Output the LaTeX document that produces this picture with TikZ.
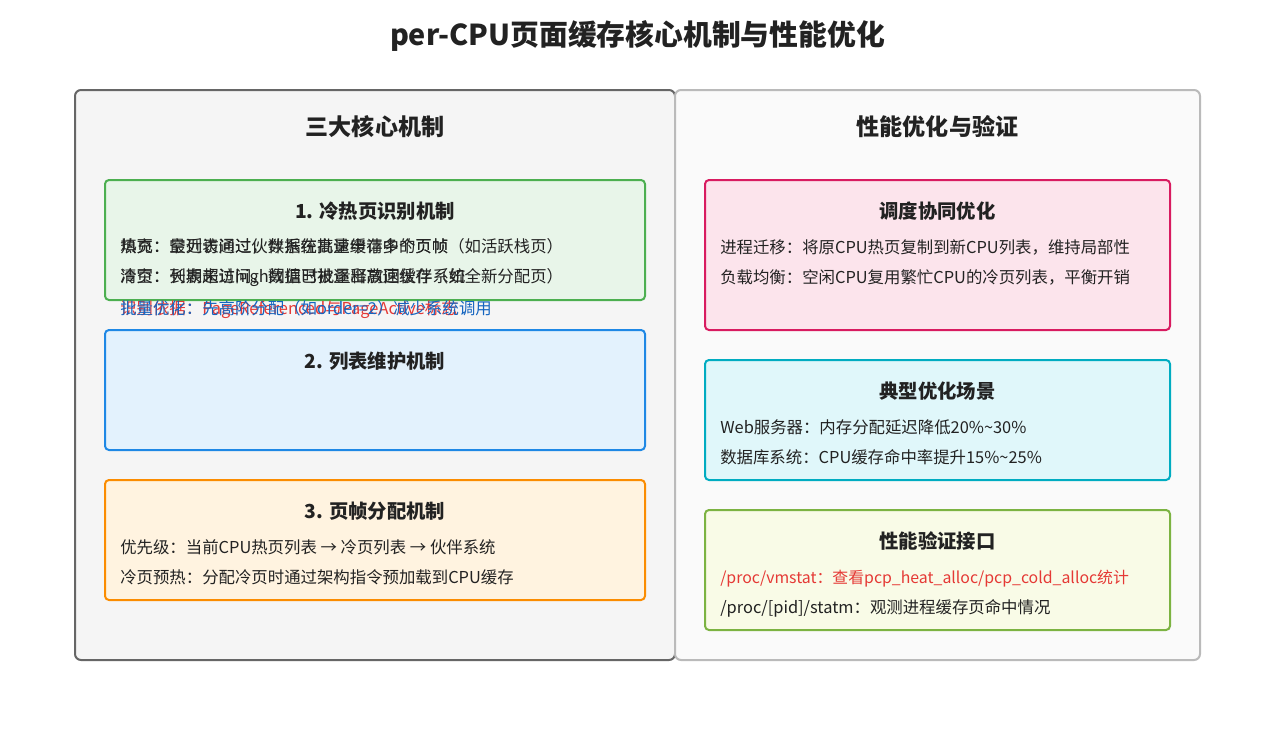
\documentclass[tikz,border=0pt]{standalone}
\usepackage{fontspec}
\setmainfont{Noto Sans CJK SC}
\definecolor{gS}{HTML}{4CAF50}\definecolor{gF}{HTML}{E8F5E9}
\definecolor{bS}{HTML}{1E88E5}\definecolor{bF}{HTML}{E3F2FD}
\definecolor{oS}{HTML}{FB8C00}\definecolor{oF}{HTML}{FFF3E0}
\definecolor{pS}{HTML}{D81B60}\definecolor{pF}{HTML}{FCE4EC}
\definecolor{tS}{HTML}{00ACC1}\definecolor{tF}{HTML}{E0F7FA}
\definecolor{lS}{HTML}{7CB342}\definecolor{lF}{HTML}{F9FBE7}
\definecolor{redT}{HTML}{E53935}\definecolor{bluT}{HTML}{1565C0}
\definecolor{txt}{HTML}{222222}
\tikzset{
  panel/.style={draw, line width=1.5pt, rounded corners=4.5pt},
  cbox/.style={draw, line width=1.5pt, rounded corners=3pt, minimum width=405pt},
  lbox/.style={draw, line width=1.5pt, rounded corners=3pt, minimum width=348.75pt},
  ttl/.style={font=\bfseries\fontsize{21.6}{25}\selectfont, text=txt},
  phead/.style={font=\bfseries\fontsize{17.3}{20}\selectfont, text=txt},
  bhead/.style={font=\bfseries\fontsize{14.5}{17}\selectfont, text=txt},
  body/.style={font=\fontsize{12.3}{14}\selectfont, text=txt, anchor=west, inner sep=0pt, text height=0.85em, text depth=0.2em},
}
\begin{document}
\begin{tikzpicture}[x=0.75pt,y=-0.75pt]
\path[use as bounding box, fill=white] (0,0) rectangle (1275,750);
\node[ttl] (title) at (637.5,36) {per-CPU页面缓存核心机制与性能优化};
% panels
\node[panel, fill=black!4, draw=black!60, minimum width=450pt, minimum height=427.5pt] (lp) at (375,375) {};
\node[panel, fill=black!2, draw=black!27, minimum width=393.75pt, minimum height=427.5pt] (rp) at (937.5,375) {};
\node[phead] (lph) at (375,127) {三大核心机制};
\node[phead] (rph) at (937.5,127) {性能优化与验证};
% left boxes
\node[cbox, fill=gF, draw=gS, minimum height=90pt] (b1) at (375,240) {};
\node[cbox, fill=bF, draw=bS, minimum height=90pt] (b2) at (375,390) {};
\node[cbox, fill=oF, draw=oS, minimum height=90pt] (b3) at (375,540) {};
\node[bhead] (b1h) at (375,211) {1. 冷热页识别机制};
\node[bhead] (b2h) at (375,361) {2. 列表维护机制};
\node[bhead] (b3h) at (375,511) {3. 页帧分配机制};
% overlapping lines of box 1 (as in the reference)
\node[body] (b1a) at (120,248) {热页：最近访问过，数据在高速缓存中的页帧（如活跃栈页）};
\node[body] (b1b) at (120,248) {填充：空列表通过伙伴系统批量申请多个页帧};
\node[body] (b1c) at (120,278) {冷页：长期未访问，数据已被逐出高速缓存（如全新分配页）};
\node[body] (b1d) at (120,278) {清空：列表超过high阈值时批量释放回伙伴系统};
\node[body, text=redT] (b1e) at (120,310) {识别依据：PageReferenced与PageActive标志};
\node[body, text=bluT] (b1f) at (120,310) {批量优化：先高阶分配（如order=2）减少系统调用};
% box 3
\node[body] (b3a) at (120,549) {优先级：当前CPU热页列表 → 冷页列表 → 伙伴系统};
\node[body] (b3b) at (120,579) {冷页预热：分配冷页时通过架构指令预加载到CPU缓存};
% right boxes
\node[lbox, fill=pF, draw=pS, minimum height=112.5pt] (r1) at (937.5,255) {};
\node[lbox, fill=tF, draw=tS, minimum height=90pt] (r2) at (937.5,420) {};
\node[lbox, fill=lF, draw=lS, minimum height=90pt] (r3) at (937.5,570) {};
\node[bhead] (r1h) at (937.5,211) {调度协同优化};
\node[bhead] (r2h) at (937.5,391) {典型优化场景};
\node[bhead] (r3h) at (937.5,541) {性能验证接口};
\node[body] (r1a) at (720,249) {进程迁移：将原CPU热页复制到新CPU列表，维持局部性};
\node[body] (r1b) at (720,279) {负载均衡：空闲CPU复用繁忙CPU的冷页列表，平衡开销};
\node[body] (r2a) at (720,429) {Web服务器：内存分配延迟降低20\%\textasciitilde30\%};
\node[body] (r2b) at (720,459) {数据库系统：CPU缓存命中率提升15\%\textasciitilde25\%};
\node[body, text=redT, font=\fontsize{11.9}{14}\selectfont] (r3a) at (720,579) {/proc/vmstat：查看pcp\_heat\_alloc/pcp\_cold\_alloc统计};
\node[body] (r3b) at (720,609) {/proc/[pid]/statm：观测进程缓存页命中情况};
\end{tikzpicture}
\end{document}
